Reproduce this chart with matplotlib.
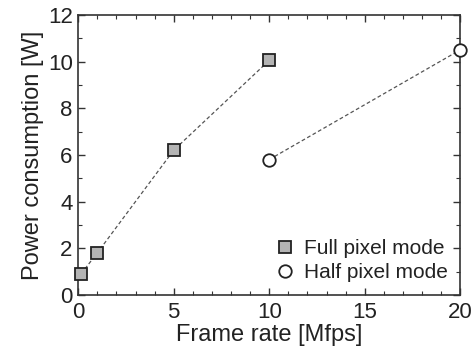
import matplotlib
matplotlib.use('Agg')
import matplotlib.pyplot as plt
from matplotlib.ticker import MultipleLocator

plt.rcParams['font.family'] = ['Liberation Sans', 'DejaVu Sans']

# Data
full_rate = [0.15, 1, 5, 10]
full_power = [0.9, 1.8, 6.2, 10.05]
half_rate = [10, 20]
half_power = [5.8, 10.5]

fig = plt.figure(figsize=(4.74, 3.54), dpi=100)
ax = fig.add_axes([0.165, 0.167, 0.806, 0.791])

ax.plot(full_rate, full_power, linestyle='--', dashes=(3, 2), color='#555555', lw=0.9,
        marker='s', markersize=8.5, markerfacecolor='#b4b4b4', markeredgecolor='#222222',
        markeredgewidth=1.3, label='Full pixel mode', clip_on=False, zorder=3)
ax.plot(half_rate, half_power, linestyle='--', dashes=(3, 2), color='#555555', lw=0.9,
        marker='o', markersize=9, markerfacecolor='white', markeredgecolor='#222222',
        markeredgewidth=1.3, label='Half pixel mode', clip_on=False, zorder=3)

ax.set_xlim(0, 20)
ax.set_ylim(0, 12)
ax.xaxis.set_major_locator(MultipleLocator(5))
ax.xaxis.set_minor_locator(MultipleLocator(1))
ax.yaxis.set_major_locator(MultipleLocator(2))
ax.yaxis.set_minor_locator(MultipleLocator(1))
ax.tick_params(which='both', direction='in', top=True, right=True, labelsize=16,
               color='#333333', labelcolor='#222222')
ax.tick_params(which='major', length=5, width=1)
ax.tick_params(axis='x', which='major', pad=5)
ax.tick_params(axis='y', which='major', pad=4)
ax.tick_params(which='minor', length=3, width=0.8)
for s in ax.spines.values():
    s.set_linewidth(1.2)
    s.set_color('#333333')

ax.set_xlabel('Frame rate [Mfps]', fontsize=17, color='#222222', labelpad=1)
ax.set_ylabel('Power consumption [W]', fontsize=17, color='#222222', labelpad=3)
ax.legend(loc='lower right', frameon=False, fontsize=15, handlelength=0.8,
          handletextpad=0.5, borderaxespad=0.2, labelspacing=0.25,
          labelcolor='#222222')
for h in ax.get_legend().legend_handles:
    h.set_linestyle('none')

fig.savefig('out.png', dpi=100)
